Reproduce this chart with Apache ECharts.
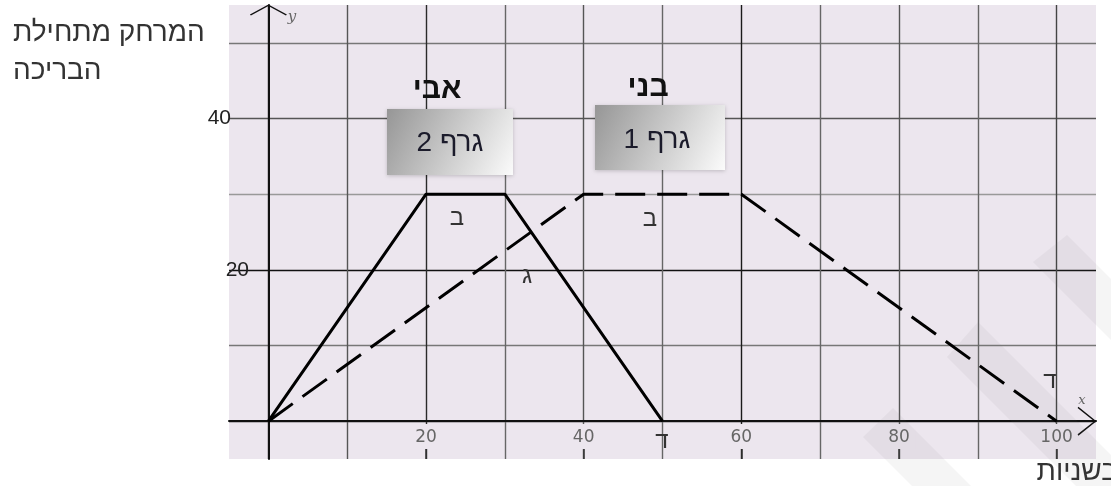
<!DOCTYPE html>
<html><head><meta charset="utf-8">
<script src="https://cdn.jsdelivr.net/npm/echarts@6/dist/echarts.min.js"></script>
<style>html,body{margin:0;padding:0;background:#fff;overflow:hidden}#c{width:1111px;height:486px}</style>
</head><body><div id="c"></div>
<script>
// ---- data ----
const xTicks = [0, 10, 20, 30, 40, 50, 60, 70, 80, 90, 100];
const xLabels = [20, 40, 60, 80, 100];
const yTicks = [0, 10, 20, 30, 40, 50];
const yLabels = [20, 40];
const aviTime = [0, 20, 30, 50];      // גרף 2 (אבי)
const aviDist = [0, 30, 30, 0];
const beniTime = [0, 40, 60, 100];    // גרף 1 (בני)
const beniDist = [0, 30, 30, 0];

const aviData = aviTime.map((t, i) => [t, aviDist[i]]);
const beniData = beniTime.map((t, i) => [t, beniDist[i]]);

const HEB = "'Liberation Sans', Arial, 'DejaVu Sans', sans-serif";
const PLOT_BG = '#ece6ee';
const xSplitColors = ['#1a1a1a', '#555', '#2a2a2a', '#666', '#555', '#666', '#1a1a1a', '#666', '#555', '#666', '#444'];
const ySplitColors = ['#111', '#777', '#111', '#999', '#555', '#777'];
const ARROW_X = 'path://M0,18 L14.5,0 L29,18 L27.6,18.8 L14.5,2.2 L1.4,18.8 Z';
const ARROW_Y = 'path://M0,10 L18.5,0 L37,10 L36,11 L18.5,1.4 L1,11 Z';

const chart = echarts.init(document.getElementById('c'), null, { renderer: 'canvas' });

function boxGrad() {
  return new echarts.graphic.LinearGradient(0, 0, 1, 1, [
    { offset: 0, color: '#969696' },
    { offset: 1, color: '#fbfbfb' }
  ]);
}
const smallLetter = (x, y, t) => ({
  type: 'text', x: x, y: y, z: 20,
  style: { text: t, font: '24px ' + HEB, fill: '#333', align: 'center', verticalAlign: 'middle',
           shadowBlur: 5, shadowColor: 'rgba(0,0,0,0.35)', shadowOffsetX: 1, shadowOffsetY: 3 }
});
const band = pts => ({ type: 'polygon', z: 1, silent: true, shape: { points: pts }, style: { fill: 'rgba(110,110,110,0.07)' } });

const option = {
  animation: false,
  backgroundColor: '#ffffff',
  grid: { left: 229, right: 15, top: 5, bottom: 27, show: true, backgroundColor: PLOT_BG, borderWidth: 0 },
  xAxis: [
    {
      type: 'value', min: -5, max: 105,
      axisLine: { show: true, onZero: true, onZeroAxisIndex: 0, symbol: ['none', ARROW_X], symbolSize: [29, 18.8], symbolOffset: [0, -9],
                  lineStyle: { color: '#111', width: 2 } },
      axisTick: { show: false, customValues: xTicks },
      axisLabel: { show: false },
      splitLine: { show: true, lineStyle: { color: xSplitColors, width: 1.4 } }
    },
    {
      type: 'value', min: -5, max: 105, position: 'bottom',
      axisLine: { show: false, onZero: false },
      axisTick: { show: true, inside: true, length: 10, customValues: xLabels, lineStyle: { color: '#333', width: 1.5 } },
      axisLabel: { show: true, inside: true, margin: 10, customValues: xLabels, color: '#666', fontSize: 17,
                   fontFamily: "'DejaVu Sans', sans-serif", backgroundColor: PLOT_BG, padding: [5, 6, 3, 6] },
      splitLine: { show: false }
    }
  ],
  yAxis: [
    {
      type: 'value', min: -5, max: 55,
      axisLine: { show: true, onZero: true, onZeroAxisIndex: 0, symbol: ['none', ARROW_Y], symbolSize: [37, 11], symbolOffset: [0, -5],
                  lineStyle: { color: '#111', width: 2 } },
      axisTick: { show: false, customValues: yTicks },
      axisLabel: {
        show: true, customValues: yLabels, margin: -20,
        formatter: v => (v === 40 ? '{a|' + v + '}' : '{b|' + v + '}'),
        rich: {
          a: { fontSize: 21, color: '#222', fontFamily: HEB, padding: [0, 18, 0, 0] },
          b: { fontSize: 21, color: '#222', fontFamily: HEB }
        }
      },
      splitLine: { show: true, lineStyle: { color: ySplitColors, width: 1.4 } }
    }
  ],
  series: [
    { name: 'אבי', type: 'line', xAxisIndex: 0, yAxisIndex: 0, data: aviData, symbol: 'none', silent: true, z: 5,
      lineStyle: { color: '#000', width: 3 } },
    { name: 'בני', type: 'line', xAxisIndex: 0, yAxisIndex: 0, data: beniData, symbol: 'none', silent: true, z: 5,
      lineStyle: { color: '#000', width: 3, type: [30, 12] } }
  ],
  graphic: [
    // watermark bands
    band([[1033, 262], [1067, 235], [1111, 279], [1111, 340]]),
    band([[947, 357], [978, 322], [1111, 455], [1111, 486], [1076, 486]]),
    band([[863, 437], [893, 408], [971, 486], [912, 486]]),
    // axis titles
    { type: 'text', x: 13, y: 14, z: 20, style: { text: 'המרחק מתחילת\nהבריכה', font: '28px ' + HEB, fill: '#333', align: 'left', verticalAlign: 'top', lineHeight: 38 } },
    { type: 'text', x: 1118, y: 472, z: 20, style: { text: 'בשניות', font: '28px ' + HEB, fill: '#333', align: 'right', verticalAlign: 'middle' } },
    { type: 'text', x: 292, y: 17, z: 20, style: { text: 'y', font: 'italic 15px "DejaVu Serif", serif', fill: '#666', align: 'center', verticalAlign: 'middle' } },
    { type: 'text', x: 1082, y: 401, z: 20, style: { text: 'x', font: 'italic 13px "DejaVu Serif", serif', fill: '#666', align: 'center', verticalAlign: 'middle' } },
    // boxes
    { type: 'rect', z: 15, shape: { x: 387, y: 109, width: 126, height: 66 }, style: { fill: boxGrad(), shadowBlur: 4, shadowColor: 'rgba(0,0,0,0.2)', shadowOffsetY: 1 } },
    { type: 'text', x: 450, y: 143, z: 20, style: { text: 'גרף 2', font: '28px ' + HEB, fill: '#1b1b2b', align: 'center', verticalAlign: 'middle' } },
    { type: 'rect', z: 15, shape: { x: 595, y: 105, width: 130, height: 65 }, style: { fill: boxGrad(), shadowBlur: 4, shadowColor: 'rgba(0,0,0,0.2)', shadowOffsetY: 1 } },
    { type: 'text', x: 657, y: 140, z: 20, style: { text: 'גרף 1', font: '28px ' + HEB, fill: '#1b1b2b', align: 'center', verticalAlign: 'middle' } },
    // names
    { type: 'text', x: 437, y: 90, z: 20, style: { text: 'אבי', font: 'bold 30px ' + HEB, fill: '#111', align: 'center', verticalAlign: 'middle',
      shadowBlur: 6, shadowColor: 'rgba(0,0,0,0.4)', shadowOffsetX: 1, shadowOffsetY: 3 } },
    { type: 'text', x: 648, y: 88, z: 20, style: { text: 'בני', font: 'bold 30px ' + HEB, fill: '#111', align: 'center', verticalAlign: 'middle',
      shadowBlur: 6, shadowColor: 'rgba(0,0,0,0.4)', shadowOffsetX: 1, shadowOffsetY: 3 } },
    // segment letters
    smallLetter(457, 218, 'ב'),
    smallLetter(650, 219, 'ב'),
    smallLetter(527, 276, 'ג'),
    smallLetter(662, 441, 'ד'),
    smallLetter(1050, 381, 'ד')
  ]
};
chart.setOption(option);
</script>
</body></html>
